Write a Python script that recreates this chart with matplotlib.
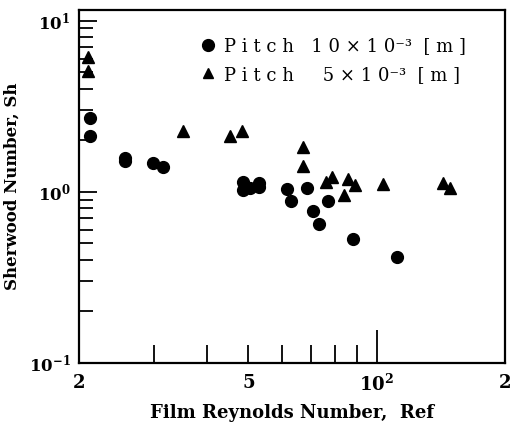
import matplotlib
matplotlib.use("Agg")
import matplotlib.pyplot as plt
from matplotlib.lines import Line2D

plt.rcParams['font.family'] = ['DejaVu Serif']
plt.rcParams['mathtext.fontset'] = 'dejavuserif'

# Data
circle_re = [21.2, 21.2, 25.6, 25.6, 29.8, 31.5, 48.5, 48.5, 50.4, 52.9, 52.9,
             61.6, 62.9, 68.6, 70.9, 73.2, 76.8, 88.0, 111.6]
circle_sh = [2.7, 2.12, 1.58, 1.52, 1.48, 1.40, 1.14, 1.03, 1.055, 1.13, 1.07,
             1.04, 0.886, 1.055, 0.774, 0.65, 0.886, 0.531, 0.417]
tri_re = [21.0, 21.0, 35.1, 45.2, 48.3, 67.1, 67.1, 76.0, 78.5, 85.6, 88.9,
          83.8, 103.4, 143.1, 148.6]
tri_sh = [6.1, 5.1, 2.27, 2.13, 2.27, 1.83, 1.42, 1.143, 1.22, 1.19, 1.10,
          0.96, 1.11, 1.127, 1.055]

xtick_vals = [20, 50, 100, 200]
xtick_labels = ['2', '5', r'$\mathbf{10^{2}}$', '2']
ytick_vals = [0.1, 1, 10]
ytick_labels = [r'$\mathbf{10^{-1}}$', r'$\mathbf{10^{0}}$', r'$\mathbf{10^{1}}$']
legend_labels = ['P i t c h   1 0 × 1 0⁻³  [ m ]', 'P i t c h     5 × 1 0⁻³  [ m ]']

fig = plt.figure(figsize=(5.19, 4.22), dpi=100)
ax = fig.add_axes([0.152, 0.140, 0.821, 0.836])

ax.plot(circle_re, circle_sh, 'o', color='black', markersize=8.5, linestyle='none')
ax.plot(tri_re, tri_sh, '^', color='black', markersize=8, linestyle='none')

ax.set_xscale('log')
ax.set_yscale('log')
ax.set_xlim(20, 200)
ax.set_ylim(0.1, 11.5)

ax.set_xticks(xtick_vals)
ax.set_xticklabels(xtick_labels, fontsize=13, fontweight='bold')
ax.set_xticks([30, 40, 60, 70, 80, 90], minor=True)
ax.xaxis.set_minor_formatter(matplotlib.ticker.NullFormatter())
ax.set_yticks(ytick_vals)
ax.set_yticklabels(ytick_labels, fontsize=12)
ax.set_yticks([v * d for d in (0.1, 1) for v in range(2, 10)], minor=True)
ax.yaxis.set_minor_formatter(matplotlib.ticker.NullFormatter())

ax.tick_params(axis='both', which='both', direction='in', width=1.3, color='black')
ax.tick_params(axis='x', which='major', length=13, pad=8)
ax.tick_params(axis='x', which='minor', length=13)
ax.tick_params(axis='y', which='major', length=13, pad=6)
ax.tick_params(axis='y', which='minor', length=10)
# longer tick at 10^2
ax.xaxis.get_major_ticks()[2].tick1line.set_markersize(24)

for s in ax.spines.values():
    s.set_linewidth(1.6)

ax.set_xlabel('Film Reynolds Number,  Ref', fontsize=13, fontweight='bold', labelpad=6)
ax.set_ylabel('Sherwood Number, Sh', fontsize=12, fontweight='bold', labelpad=6)

handles = [Line2D([], [], marker='o', color='black', linestyle='none', markersize=8.5),
           Line2D([], [], marker='^', color='black', linestyle='none', markersize=7)]
ax.legend(handles, legend_labels, loc='upper left', bbox_to_anchor=(0.24, 0.97),
          frameon=False, fontsize=13, handletextpad=0.25, labelspacing=0.6,
          handlelength=1.2)

fig.savefig('out.png', dpi=100)
